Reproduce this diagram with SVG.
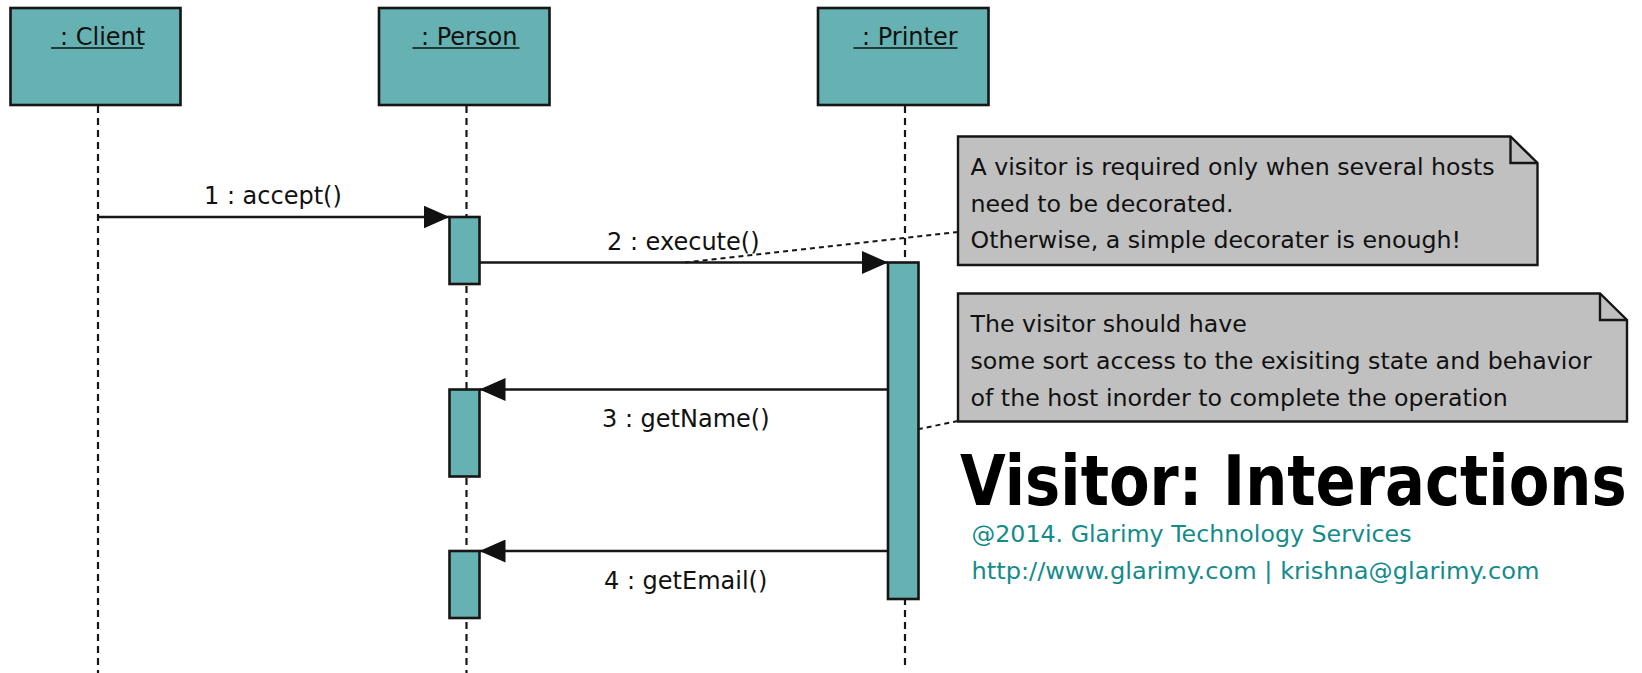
<svg xmlns="http://www.w3.org/2000/svg" width="1642" height="673" viewBox="0 0 1642 673">
  <defs>
    <style>
      .obj { fill: #66b2b2; stroke: #161616; stroke-width: 2.6; }
      .act { fill: #66b2b2; stroke: #161616; stroke-width: 2.6; }
      .life { stroke: #161616; stroke-width: 2.2; stroke-dasharray: 7 5; fill: none; }
      .msg { stroke: #161616; stroke-width: 2.6; fill: none; marker-end: url(#arrow); }
      .anchor { stroke: #161616; stroke-width: 2; stroke-dasharray: 5 4; fill: none; }
      .note { fill: #c0c0c0; stroke: #161616; stroke-width: 2.4; }
      .fold { fill: none; stroke: #161616; stroke-width: 2.4; }
      .lbl { font-family: "DejaVu Sans", "Liberation Sans", sans-serif; font-size: 24px; fill: #111111; }
      .ntxt { font-family: "DejaVu Sans", "Liberation Sans", sans-serif; font-size: 23.7px; fill: #111111; }
      .uline { stroke: #111111; stroke-width: 1.6; }
      .title { font-family: "DejaVu Sans", "Liberation Sans", sans-serif; font-weight: bold; font-size: 70px; fill: #000000; }
      .credit { font-family: "DejaVu Sans", "Liberation Sans", sans-serif; font-size: 23.5px; fill: #138b8b; }
    </style>
    <marker id="arrow" markerUnits="userSpaceOnUse" markerWidth="27" markerHeight="23" refX="26" refY="11.5" orient="auto">
      <path d="M0,0 L26,11.5 L0,23 Z" fill="#111111"/>
    </marker>
  </defs>

  <rect width="1642" height="673" fill="#ffffff"/>

  <!-- lifelines -->
  <g id="lifelines">
    <line class="life" x1="98" y1="106" x2="98" y2="673"/>
    <line class="life" x1="466.5" y1="106" x2="466.5" y2="673"/>
    <line class="life" x1="905" y1="106" x2="905" y2="665"/>
  </g>

  <!-- messages and note anchors -->
  <g id="connectors">
    <line class="msg" x1="98" y1="217" x2="449.5" y2="217"/>
    <line class="msg" x1="479.5" y1="262.5" x2="888" y2="262.5"/>
    <line class="msg" x1="888" y1="389.5" x2="479.5" y2="389.5"/>
    <line class="msg" x1="888" y1="551" x2="479.5" y2="551"/>
    <line class="anchor" x1="958" y1="232" x2="685" y2="262.5"/>
    <line class="anchor" x1="958" y1="421" x2="919" y2="429"/>
    <text class="lbl" x="204" y="204">1 : accept()</text>
    <text class="lbl" x="607" y="250">2 : execute()</text>
    <text class="lbl" x="602" y="427">3 : getName()</text>
    <text class="lbl" x="604" y="588.5">4 : getEmail()</text>
  </g>

  <!-- object heads -->
  <g id="client">
    <rect class="obj" x="10.5" y="8" width="170" height="97"/>
    <text class="lbl" x="60" y="44.5">: Client</text>
    <line class="uline" x1="51" y1="48" x2="143" y2="48"/>
  </g>
  <g id="person">
    <rect class="obj" x="379" y="8" width="170.5" height="97"/>
    <text class="lbl" x="421" y="44.5">: Person</text>
    <line class="uline" x1="412.5" y1="48" x2="519.5" y2="48"/>
  </g>
  <g id="printer">
    <rect class="obj" x="818" y="8" width="170.5" height="97"/>
    <text class="lbl" x="862" y="44.5">: Printer</text>
    <line class="uline" x1="853.5" y1="48" x2="957.5" y2="48"/>
  </g>

  <!-- activations -->
  <g id="person-activation-1">
    <rect class="act" x="449.5" y="217" width="30" height="67"/>
  </g>
  <g id="printer-activation">
    <rect class="act" x="888" y="262.5" width="30.5" height="336.5"/>
  </g>
  <g id="person-activation-2">
    <rect class="act" x="449.5" y="389.5" width="30" height="87"/>
  </g>
  <g id="person-activation-3">
    <rect class="act" x="449.5" y="551" width="30" height="67"/>
  </g>

  <!-- notes -->
  <g id="note-decorator">
    <path class="note" d="M958,136.5 H1510.5 L1537.5,163 V265 H958 Z"/>
    <path class="fold" d="M1510.5,136.5 V163 H1537.5"/>
    <text class="ntxt" x="970.5" y="175">A visitor is required only when several hosts</text>
    <text class="ntxt" x="970.5" y="211.5">need to be decorated.</text>
    <text class="ntxt" x="970.5" y="248">Otherwise, a simple decorater is enough!</text>
  </g>
  <g id="note-access">
    <path class="note" d="M958,293.5 H1600 L1627,320 V421.5 H958 Z"/>
    <path class="fold" d="M1600,293.5 V320 H1627"/>
    <text class="ntxt" x="970.5" y="331.5">The visitor should have</text>
    <text class="ntxt" x="970.5" y="368.5">some sort access to the exisiting state and behavior</text>
    <text class="ntxt" x="970.5" y="405.5">of the host inorder to complete the operation</text>
  </g>

  <!-- title block: heading narrowed horizontally to a condensed bold look -->
  <g id="title">
    <text class="title" transform="translate(960 505) scale(0.846 1)" x="0" y="0">Visitor: Interactions</text>
    <text class="credit" x="971.5" y="541.5" textLength="440" lengthAdjust="spacingAndGlyphs">@2014. Glarimy Technology Services</text>
    <text class="credit" x="971.5" y="578.5" textLength="568" lengthAdjust="spacingAndGlyphs">http://www.glarimy.com | krishna@glarimy.com</text>
  </g>
</svg>
